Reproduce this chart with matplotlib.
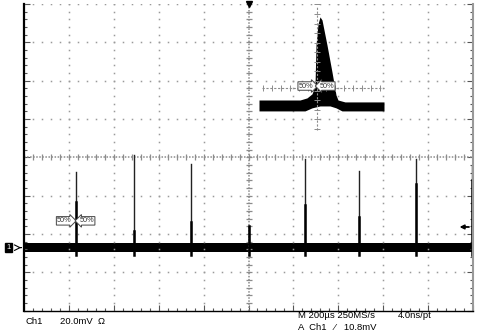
import numpy as np
import matplotlib
matplotlib.use('Agg')
import matplotlib.pyplot as plt

plt.rcParams['font.family'] = ['Liberation Sans', 'DejaVu Sans']

# main trace: 200 us/div, 20 mV/div
baseline_mv = -47.2
band_half = 2.3
spike_t = [-768, -510, -256, 2, 252, 492, 746, 995]        # us
spike_tip = [39.7, 48.5, 43.8, 11.5, 46.4, 40.2, 46.4, 42.8]  # mV above baseline
spike_body = [24.0, 8.9, 13.6, 11.5, 22.4, 16.2, 33.4, 35.5]  # mV, thick part
trig_level = 10.8

# zoom window: pulse envelope (ns, mV above baseline)
zoom_t_top = [-58, -17, -10, -5, -2, -1, 1, 3, 5, 10, 15, 19, 21, 28, 67]
zoom_v_top = [3.1, 3.1, 4.2, 6.3, 10.4, 31.8, 42.8, 46.5, 44.9, 31.8, 17.7, 5.7, 3.1, 2.1, 2.1]
zoom_t_bot = [-58, -12, -5, 3, 13, 19, 25, 67]
zoom_v_bot = [-2.6, -2.6, -1.0, 0, 0, -1.0, -2.6, -2.6]

W, H = 484, 334
fig = plt.figure(figsize=(W / 100, H / 100), dpi=100)

def px(x0, y0, x1, y1):
    return [x0 / W, 1 - y1 / H, (x1 - x0) / W, (y1 - y0) / H]

ax = fig.add_axes(px(24, 4, 473, 310.5))
ax.set_xlim(-1000, 1000)
ax.set_ylim(-80, 80)
grid_c = '#8c8c8c'
dot_c = '#9a9a9a'

# graticule dots
minor_y = np.arange(-80, 80.1, 4)
minor_x = np.arange(-1000, 1000.1, 40)
for gx in range(-800, 801, 200):
    if gx != 0:
        ax.plot([gx] * len(minor_y), minor_y, 's', color=dot_c, ms=1.1, mew=0)
for gy in list(range(-60, 61, 20)) + [80]:
    if gy != 0:
        ax.plot(minor_x, [gy] * len(minor_x), 's', color=dot_c, ms=1.1, mew=0)

# center lines with ticks
ax.axhline(0, color=grid_c, lw=1.1, ls=(0, (1, 1)))
ax.axvline(0, color=grid_c, lw=1.1, ls=(0, (1, 1)))
ax.plot(minor_x, np.zeros_like(minor_x), '|', color=grid_c, ms=5, mew=0.9)
ax.plot(np.zeros_like(minor_y), minor_y, '_', color=grid_c, ms=5, mew=0.9)

# border
ax.spines['top'].set_visible(False)
ax.spines['left'].set_linewidth(1.6)
ax.spines['bottom'].set_linewidth(1.0)
ax.spines['right'].set_color('#999999')
ax.spines['right'].set_linewidth(1.5)
ax.set_xticks(np.arange(-1000, 1001, 200))
ax.set_yticks(np.arange(-80, 81, 20))
ax.set_xticks(minor_x, minor=True)
ax.set_yticks(minor_y, minor=True)
ax.tick_params(which='both', direction='in', labelbottom=False, labelleft=False,
               right=True, color='#555555', width=0.8)
ax.tick_params(which='major', length=4)
ax.tick_params(which='minor', length=2.5)

# trace band
ax.fill_between([-1000, 1000], baseline_mv - band_half, baseline_mv + band_half,
                color='black', lw=0)
for t, tip, body in zip(spike_t, spike_tip, spike_body):
    ax.plot([t, t], [baseline_mv, baseline_mv + tip], color='#222222', lw=1.0)
    ax.plot([t, t], [baseline_mv - 3.8, baseline_mv + body], color='black', lw=1.8)

# ground marker and trigger level arrow
ax.annotate('1', xy=(0, baseline_mv), xycoords=('axes fraction', 'data'),
            xytext=(-11, 0), textcoords='offset points', fontsize=5.5,
            ha='center', va='center', color='white',
            bbox=dict(boxstyle='square,pad=0.15', fc='black', ec='black'),
            annotation_clip=False)
ax.annotate('', xy=(0, baseline_mv), xycoords=('axes fraction', 'data'),
            xytext=(-4, 0), textcoords='offset points',
            arrowprops=dict(arrowstyle='->', color='black', lw=0.8),
            annotation_clip=False)
ax.annotate('', xy=(940, baseline_mv + trig_level), xytext=(982, baseline_mv + trig_level),
            arrowprops=dict(arrowstyle='-|>', color='black', lw=1.3, mutation_scale=6,
                            shrinkA=0, shrinkB=0))
ax.plot([0], [80], 'v', color='black', ms=5, clip_on=False)

# 50% labels on main trace
lbl = dict(fontsize=5.3, ha='center', va='center', color='#333333')
ax.text(-820, -33.2, '50%', bbox=dict(boxstyle='rarrow,pad=0.1', fc='white', ec='#444444', lw=0.7), **lbl)
ax.text(-720, -33.2, '50%', bbox=dict(boxstyle='larrow,pad=0.1', fc='white', ec='#444444', lw=0.7), **lbl)

# zoom window
iz = fig.add_axes(px(258, 0, 386, 132))
iz.set_xlim(-59, 69)
iz.set_ylim(-13.6, 55.3)
iz.axis('off')
iz.patch.set_alpha(0)
tt = np.union1d(zoom_t_top, zoom_t_bot)
iz.fill_between(tt, np.interp(tt, zoom_t_bot, zoom_v_bot), np.interp(tt, zoom_t_top, zoom_v_top),
                color='black', lw=0)
iz.plot([-55, 67], [9.4, 9.4], color=grid_c, lw=0.8, ls=(0, (2, 1.5)))
iz.plot(np.arange(-54, 67, 9), [9.4] * len(np.arange(-54, 67, 9)), '|', color=grid_c, ms=4, mew=0.7)
iz.plot([0, 0], [-12.5, 52], color=grid_c, lw=0.8, ls=(0, (2, 1.5)))
iz.plot([0] * 14, np.arange(-12, 54, 5), '_', color=grid_c, ms=4, mew=0.7)
iz.text(-11, 10.4, '50%', bbox=dict(boxstyle='rarrow,pad=0.1', fc='white', ec='#444444', lw=0.7), **lbl)
iz.text(10, 10.4, '50%', bbox=dict(boxstyle='larrow,pad=0.1', fc='white', ec='#444444', lw=0.7), **lbl)

# readout text
fs = 6.8
fig.text(25 / W, 1 - 322 / H, 'Ch1', fontsize=fs, va='center')
fig.text(60 / W, 1 - 322 / H, '20.0mV  Ω', fontsize=fs, va='center')
fig.text(298 / W, 1 - 316 / H, 'M 200µs 250MS/s', fontsize=fs, va='center')
fig.text(398 / W, 1 - 316 / H, '4.0ns/pt', fontsize=fs, va='center')
fig.text(298 / W, 1 - 327 / H, 'A  Ch1   ⁄   10.8mV', fontsize=fs, va='center')

fig.savefig('out.png', dpi=100)
